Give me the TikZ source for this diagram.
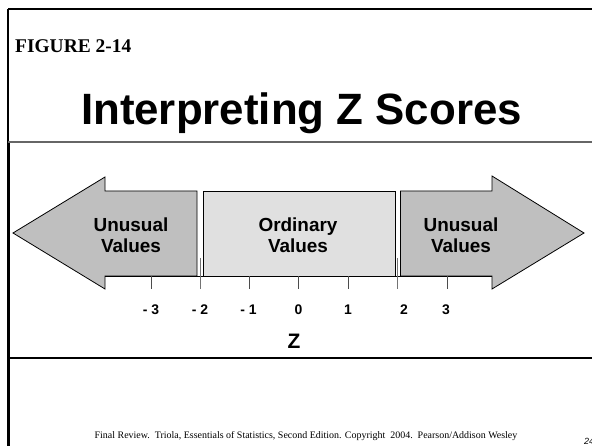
\documentclass[tikz,border=0pt]{standalone}
\usepackage{fontspec}
\setmainfont{Liberation Serif}
\newfontfamily\arialfont{Liberation Sans}
\begin{document}
\begin{tikzpicture}[x=1bp,y=-1bp,
  region/.style={draw=black,line width=0.8bp},
  unusual/.style={region,fill=black!25},
  ordinary/.style={region,fill=black!12},
  lbl/.style={font=\arialfont\bfseries\fontsize{19}{21.5}\selectfont,align=center,inner sep=0pt},
  ticklbl/.style={font=\arialfont\bfseries\fontsize{14}{16}\selectfont,anchor=base,inner sep=0pt},
  tickmark/.style={draw=black!70,line width=0.8bp},
  frameline/.style={line width=#1,draw=black}]
\useasboundingbox (0,0) rectangle (592,446);
\fill[white] (0,0) rectangle (592,446);

% slide frame and rules
\draw[frameline=1.8bp] (8,9) -- (592,9);
\draw[frameline=1.8bp] (8,9) -- (8,142);
\draw[frameline=3bp] (8,142) -- (8,446);
\draw[line width=1.5bp,draw=black!60] (8,142) -- (592,142);
\draw[frameline=1.1bp] (8,358) -- (592,358);

% headings
\node[font=\bfseries\fontsize{19.5}{22}\selectfont,anchor=base west,inner sep=0pt] (fig) at (15,53) {FIGURE 2-14};
\node[font=\arialfont\bfseries\fontsize{44}{50}\selectfont,anchor=base,inner sep=0pt] (title) at (301.5,125) {Interpreting Z Scores};

% regions of the z axis
\draw[unusual] (197,191) -- (105,191) -- (105,177) -- (13,233) -- (105,289) -- (105,276) -- (197,276) -- cycle;
\draw[ordinary] (203,191.5) rectangle (395,276);
\draw[unusual] (400.5,191) -- (492,191) -- (492,176) -- (584,233) -- (492,289) -- (492,276) -- (400.5,276) -- cycle;

\node[lbl] (lu) at (131,235) {Unusual\\Values};
\node[lbl] (mo) at (298,235) {Ordinary\\Values};
\node[lbl] (ru) at (461,235) {Unusual\\Values};

% axis and ticks
\draw[line width=0.8bp] (105,276) -- (492,276);
\foreach \x in {151,249,298.5,348,447}{
  \draw[tickmark] (\x,276) -- (\x,289);
}
\draw[tickmark,draw=black!55] (200,258) -- (200,289);
\draw[tickmark,draw=black!55] (397,258) -- (397,289);

\node[ticklbl] (tm3) at (151,314) {- 3};
\node[ticklbl] (tm2) at (200,314) {- 2};
\node[ticklbl] (tm1) at (248.5,314) {- 1};
\node[ticklbl] (t0) at (298.5,314) {0};
\node[ticklbl] (t1) at (348,314) {1};
\node[ticklbl] (t2) at (404,314) {2};
\node[ticklbl] (t3) at (446,314) {3};
\node[font=\arialfont\bfseries\fontsize{21}{24}\selectfont,anchor=base,inner sep=0pt] (zlab) at (294,348) {Z};

% footer
\node[font=\fontsize{10}{12}\selectfont,anchor=base,inner sep=0pt] (foot) at (306,438) {Final Review.\ \ Triola, Essentials of Statistics, Second Edition. Copyright\ \ 2004.\ \ Pearson/Addison Wesley};
\node[font=\arialfont\itshape\fontsize{9}{11}\selectfont,anchor=base west,inner sep=0pt] (page) at (584,444) {24};
\end{tikzpicture}
\end{document}
